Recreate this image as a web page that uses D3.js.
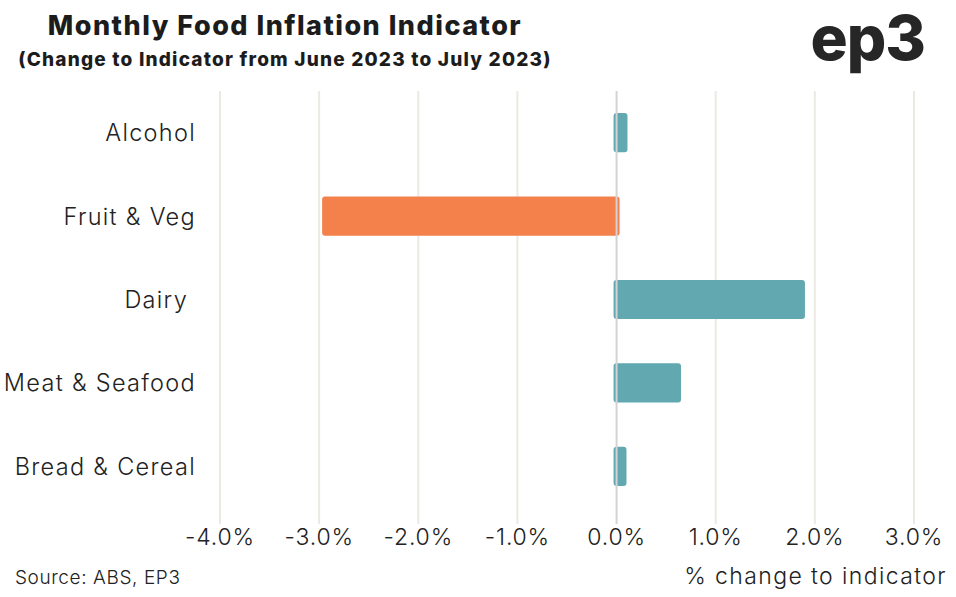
<!DOCTYPE html>
<html>
<head>
<meta charset="utf-8">
<script src="https://cdn.jsdelivr.net/npm/d3@7"></script>
<style>
  body { margin: 0; background: #fff; }
  svg text { font-family: "Inter", "Noto Sans", sans-serif; }
</style>
</head>
<body>
<div class="container"></div>
<script>
// categories, top to bottom, and their change in percent
const categories = ["Alcohol", "Fruit & Veg", "Dairy ", "Meat & Seafood", "Bread & Cereal"];
const values = [0.11, -2.97, 1.90, 0.65, 0.10];
const tickValues = [-4, -3, -2, -1, 0, 1, 2, 3];

const W = 956, H = 597;
const margin = { top: 91, right: 42, bottom: 90, left: 220 };

const svg = d3.select(".container")
  .append("svg")
  .attr("width", W)
  .attr("height", H);

// titles
svg.append("text")
  .attr("x", 285).attr("y", 35)
  .attr("text-anchor", "middle")
  .style("font-size", "27px").style("font-weight", 800)
  .style("letter-spacing", "1.5px")
  .attr("fill", "#1c1c1c")
  .text("Monthly Food Inflation Indicator");

svg.append("text")
  .attr("x", 285).attr("y", 66)
  .attr("text-anchor", "middle")
  .style("font-size", "19px").style("font-weight", 800)
  .style("letter-spacing", "1.2px")
  .attr("fill", "#1c1c1c")
  .text("(Change to Indicator from June 2023 to July 2023)");

// logo
svg.append("text")
  .attr("x", 925).attr("y", 60)
  .attr("text-anchor", "end")
  .style("font-size", "62px").style("font-weight", 800)
  .style("letter-spacing", "-1px")
  .attr("fill", "#262626")
  .text("ep3");

const x = d3.scaleLinear()
  .domain([-4, 3])
  .range([margin.left, W - margin.right]);

const y = d3.scaleBand()
  .domain(categories)
  .range([margin.top, H - margin.bottom + 1])
  .paddingInner(0.53)
  .paddingOuter(0.265);

// vertical gridlines
svg.append("g")
  .selectAll("line")
  .data(tickValues.filter(d => d !== 0))
  .join("line")
  .attr("x1", d => x(d)).attr("x2", d => x(d))
  .attr("y1", margin.top).attr("y2", H - margin.bottom + 17)
  .attr("stroke", "#ebeae2")
  .attr("stroke-width", 2);

// bars, nudged a few pixels past zero so the rounded end tucks behind the axis
const nudge = 3;
svg.append("g")
  .selectAll("rect")
  .data(values)
  .join("rect")
  .attr("x", d => d >= 0 ? x(0) - nudge : x(d))
  .attr("width", d => Math.abs(x(d) - x(0)) + nudge)
  .attr("y", (d, i) => y(categories[i]))
  .attr("height", y.bandwidth())
  .attr("rx", 3)
  .attr("fill", d => d >= 0 ? "#62a8b0" : "#f4814c");

// zero line on top
svg.append("line")
  .attr("x1", x(0)).attr("x2", x(0))
  .attr("y1", margin.top).attr("y2", H - margin.bottom + 17)
  .attr("stroke", "#d3d3d3")
  .attr("stroke-width", 2);

// category labels
svg.append("g")
  .selectAll("text")
  .data(categories)
  .join("text")
  .attr("x", 196)
  .attr("y", d => y(d) + y.bandwidth() / 2)
  .attr("dy", "0.36em")
  .attr("text-anchor", "end")
  .style("white-space", "pre")
  .style("font-size", "23.5px").style("font-weight", 300)
  .style("letter-spacing", "1.3px")
  .attr("fill", "#222")
  .text(d => d);

// x tick labels
svg.append("g")
  .selectAll("text")
  .data(tickValues)
  .join("text")
  .attr("x", d => x(d))
  .attr("y", 545)
  .attr("text-anchor", "middle")
  .style("font-size", "23px").style("font-weight", 300)
  .style("letter-spacing", "0.8px")
  .attr("fill", "#222")
  .text(d => d3.format(".1f")(d).replace("−", "-") + "%");

// footer
svg.append("text")
  .attr("x", 15).attr("y", 584)
  .style("font-size", "19px").style("font-weight", 300)
  .style("letter-spacing", "0.6px")
  .attr("fill", "#222")
  .text("Source: ABS, EP3");

svg.append("text")
  .attr("x", 947).attr("y", 584)
  .attr("text-anchor", "end")
  .style("font-size", "23px").style("font-weight", 300)
  .style("letter-spacing", "1.4px")
  .attr("fill", "#222")
  .text("% change to indicator");
</script>
</body>
</html>
